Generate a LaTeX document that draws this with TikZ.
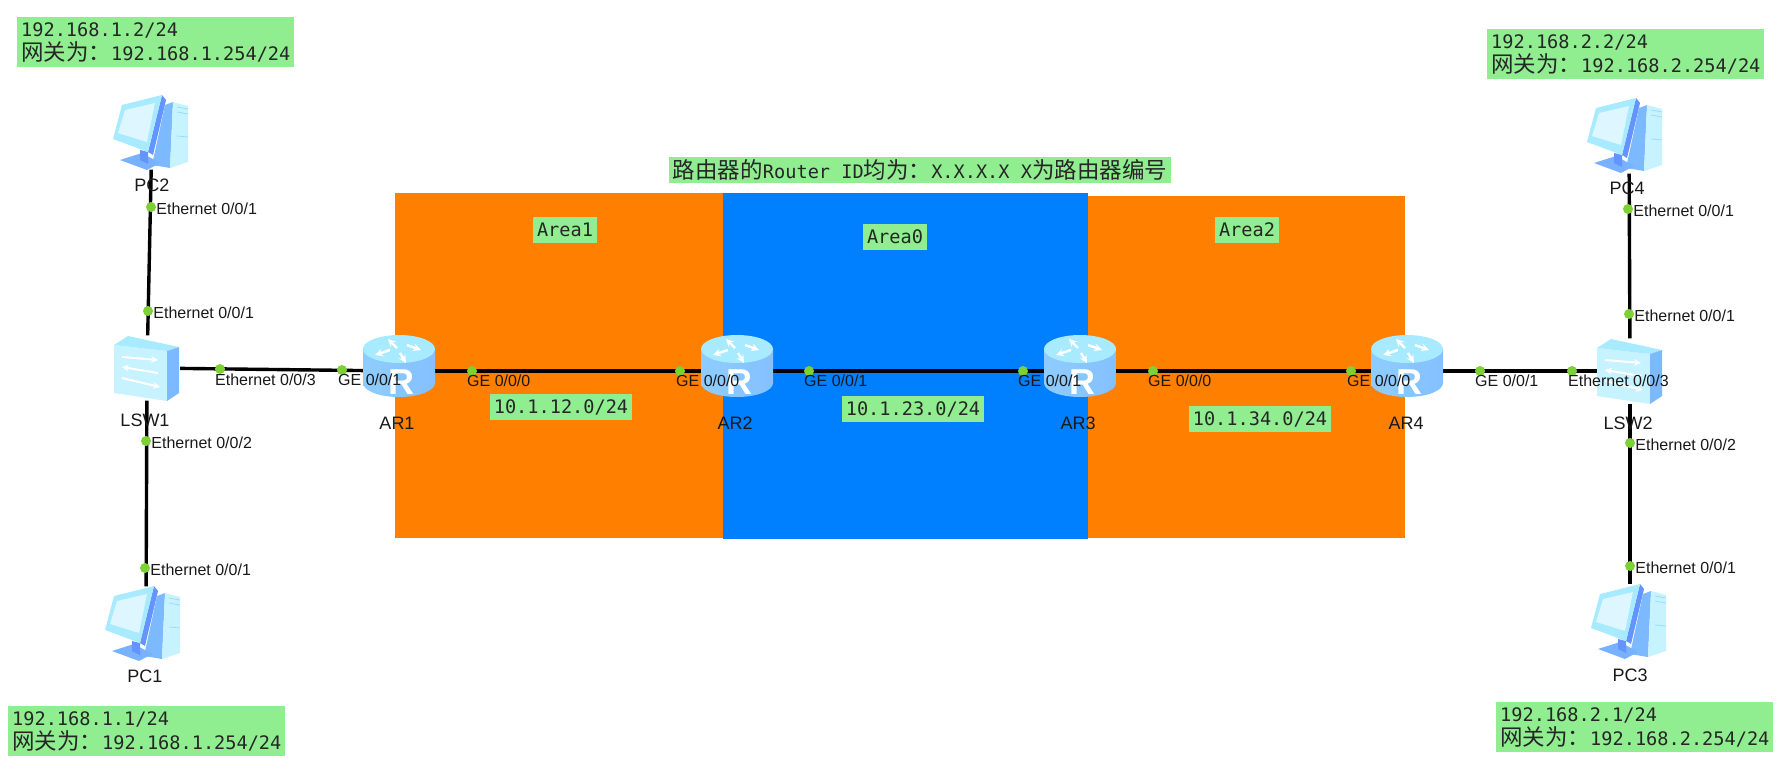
\documentclass[tikz,border=0pt]{standalone}
\usepackage{fontspec}
\setmainfont{Liberation Sans}
\setmonofont{DejaVu Sans Mono}
\newfontfamily\cjk[Scale=1.21]{Noto Sans CJK SC}
\usetikzlibrary{graphs,positioning}
\definecolor{areaorange}{HTML}{FF7F00}
\definecolor{areablue}{HTML}{007FFF}
\definecolor{notegreen}{HTML}{90EE90}
\definecolor{portgreen}{HTML}{7DD136}
\definecolor{iconpale}{HTML}{C6F3FF}
\definecolor{iconlight}{HTML}{A8EAFF}
\definecolor{iconscreen}{HTML}{DDF6FF}
\definecolor{iconmid}{HTML}{7DB9FF}
\definecolor{icondark}{HTML}{6494FF}
\tikzset{
    note/.style ={
        fill=notegreen,
        text=black!85,
        inner xsep=4pt,
        inner ysep=0pt,
        minimum height=26pt,
        font=\ttfamily\fontsize{18.6}{24}\selectfont
    },
    gwnote/.style ={
        note,
        anchor=north west,
        align=left,
        minimum height=50pt
    },
    wire/.style ={
        line width=3.4pt,
        black
    },
    pcbox/.style ={
        shape=rectangle,
        inner sep=0pt,
        minimum width=78pt,
        minimum height=75pt
    },
    switchbox/.style ={
        shape=rectangle,
        inner sep=0pt,
        minimum width=66pt,
        minimum height=65pt
    },
    routerbox/.style ={
        shape=rectangle,
        inner sep=0pt,
        minimum width=72pt,
        minimum height=52pt
    },
    port/.style ={
        shape=circle,
        inner sep=0pt,
        fill=portgreen,
        minimum size=10pt
    },
    portlabel/.style ={
        inner sep=0pt,
        text=black!90,
        font=\fontsize{16}{18}\selectfont
    },
    sidelabel/.style ={
        portlabel,
        yshift=-2pt
    },
    devlabel/.style ={
        inner sep=0pt,
        text=black!90,
        font=\fontsize{18}{20}\selectfont
    },
    pcicon/.pic={
        \fill[iconmid] (52,10) -- (60,7) -- (57,73) -- (39,70) -- cycle;
        \fill[iconpale] (60,7) -- (75,11) -- (75,67) -- (57,73) -- cycle;
        \draw[iconlight!70!iconmid,line width=0.8pt] (64,12) -- (75,14) (64,17) -- (75,19) (64,41) -- (75,42);
        \fill[iconmid!80!icondark] (7,65) -- (29,58) -- (47,68) -- (34,75) -- cycle;
        \fill[icondark] (27,55) -- (35,57) -- (35,69) -- (27,65) -- cycle;
        \fill[icondark] (49,0) -- (53,5) -- (40,60) -- (35,57) -- cycle;
        \fill[iconlight] (9,10) -- (49,0) -- (35,57) -- (0,44) -- cycle;
        \fill[iconscreen] (12,15) -- (42,8) -- (34,47) -- (5,38) -- cycle;
    },
    switchicon/.pic={
        \fill[iconpale] (1,9) -- (54,15) -- (54,65) -- (1,57) -- cycle;
        \fill[iconlight] (1,9) -- (15,0) -- (66,11) -- (54,15) -- cycle;
        \fill[iconmid] (54,15) -- (66,11) -- (66,57) -- (54,65) -- cycle;
        \draw[white,line width=2pt,->,>=stealth] (9,21) -- (45,24);
        \draw[white,line width=2pt,<-,>=stealth] (9,31) -- (45,37);
        \draw[white,line width=2pt,->,>=stealth] (9,42) -- (47,51);
    },
    routericon/.pic={
        \path[left color=iconmid!60!iconlight,middle color=iconlight!80!iconmid,right color=iconmid!85!iconlight]
            (0,14) -- (0,48) arc[start angle=180,end angle=0,x radius=36,y radius=14] -- (72,14) -- cycle;
        \fill[iconlight] (36,14) ellipse[x radius=36,y radius=14];
        \draw[white,line width=2.4pt,->,>=stealth] (34,13) -- (25,4);
        \draw[white,line width=2.4pt,->,>=stealth] (44,10) -- (58,15);
        \draw[white,line width=2.4pt,->,>=stealth] (27,15) -- (12,20);
        \draw[white,line width=2.4pt,->,>=stealth] (37,18) -- (43,28);
        \node[inner sep=0pt,text=white,font=\bfseries\fontsize{36}{36}\selectfont] (rmark) at(38,47) {R};
    }
}

\begin{document}
\begin{tikzpicture}[x=1pt,y=-1pt]
    \useasboundingbox (0,0) rectangle (1776,759);
    % areas
    \fill[areaorange] (395,193) rectangle (723,538);
    \fill[areaorange] (1087,196) rectangle (1405,538);
    \fill[areablue] (723,193) rectangle (1088,539);

    % devices
    \node[pcbox] (PC2) at(152,132) {};
    \node[pcbox] (PC1) at(146,624) {};
    \node[pcbox] (PC4) at(1629,136) {};
    \node[pcbox] (PC3) at(1630,622) {};
    \node[switchbox] (LSW1) at(147,368) {};
    \node[switchbox] (LSW2) at(1630,371) {};
    \node[routerbox] (AR1) at(399,371) {};
    \node[routerbox] (AR2) at(737,371) {};
    \node[routerbox] (AR3) at(1080,371) {};
    \node[routerbox] (AR4) at(1407,371) {};
    \graph[edges={wire}]{
        (PC2)--(LSW1)--(AR1)--(AR2)--(AR3)--(AR4)--(LSW2)--(PC4);
        (LSW1)--(PC1);
        (LSW2)--(PC3);
    };

    % icons
    \pic at(113,95) {pcicon};
    \pic at(105,586) {pcicon};
    \pic at(1587,98) {pcicon};
    \pic at(1591,584) {pcicon};
    \pic at(113,336) {switchicon};
    \pic at(1596,339) {switchicon};
    \pic at(363,335) {routericon};
    \pic at(701,335) {routericon};
    \pic at(1044,335) {routericon};
    \pic at(1371,335) {routericon};

    % ports
    \node[port] (p1) at(151,207) {};
    \node[port] (p2) at(148,311) {};
    \node[port] (p3) at(146,441) {};
    \node[port] (p4) at(145,568) {};
    \node[port] (p5) at(1628,209) {};
    \node[port] (p6) at(1629,314) {};
    \node[port] (p7) at(1630,443) {};
    \node[port] (p8) at(1630,566) {};
    \node[port] (p9) at(220,369) {};
    \node[port] (p10) at(342,370) {};
    \node[port] (p11) at(472,371) {};
    \node[port] (p12) at(680,371) {};
    \node[port] (p13) at(809,371) {};
    \node[port] (p14) at(1023,371) {};
    \node[port] (p15) at(1153,371) {};
    \node[port] (p16) at(1351,371) {};
    \node[port] (p17) at(1480,371) {};
    \node[port] (p18) at(1572,371) {};

    \node[sidelabel,right=0pt of p1] {Ethernet 0/0/1};
    \node[sidelabel,right=0pt of p2] {Ethernet 0/0/1};
    \node[sidelabel,right=0pt of p3] {Ethernet 0/0/2};
    \node[sidelabel,right=0pt of p4] {Ethernet 0/0/1};
    \node[sidelabel,right=0pt of p5] {Ethernet 0/0/1};
    \node[sidelabel,right=0pt of p6] {Ethernet 0/0/1};
    \node[sidelabel,right=0pt of p7] {Ethernet 0/0/2};
    \node[sidelabel,right=0pt of p8] {Ethernet 0/0/1};
    \node[portlabel,anchor=west] at(215,380) {Ethernet 0/0/3};
    \node[portlabel,anchor=west] at(338,380) {GE 0/0/1};
    \node[portlabel,anchor=west] at(467,381) {GE 0/0/0};
    \node[portlabel,anchor=west] at(676,381) {GE 0/0/0};
    \node[portlabel,anchor=west] at(804,381) {GE 0/0/1};
    \node[portlabel,anchor=west] at(1018,381) {GE 0/0/1};
    \node[portlabel,anchor=west] at(1148,381) {GE 0/0/0};
    \node[portlabel,anchor=west] at(1347,381) {GE 0/0/0};
    \node[portlabel,anchor=west] at(1475,381) {GE 0/0/1};
    \node[portlabel,anchor=west] at(1568,381) {Ethernet 0/0/3};

    \node[devlabel] (lPC2) at(152,185) {PC2};
    \node[devlabel] (lPC1) at(145,676) {PC1};
    \node[devlabel] (lPC4) at(1627,188) {PC4};
    \node[devlabel] (lPC3) at(1630,675) {PC3};
    \node[devlabel] (lLSW1) at(145,420) {LSW1};
    \node[devlabel] (lLSW2) at(1628,423) {LSW2};
    \node[devlabel] (lAR1) at(397,423) {AR1};
    \node[devlabel] (lAR2) at(735,423) {AR2};
    \node[devlabel] (lAR3) at(1078,423) {AR3};
    \node[devlabel] (lAR4) at(1406,423) {AR4};

    % notes
    \node[note] (title) at(920,170) {{\cjk 路由器的}Router ID{\cjk 均为：}X.X.X.X X{\cjk 为路由器编号}};
    \node[note] (area1) at(565,230) {Area1};
    \node[note] (area0) at(895,237) {Area0};
    \node[note] (area2) at(1247,230) {Area2};
    \node[note] (net12) at(561,407) {10.1.12.0/24};
    \node[note] (net23) at(913,409) {10.1.23.0/24};
    \node[note] (net34) at(1260,419) {10.1.34.0/24};
    \node[gwnote] (gwPC2) at(17,17) {192.168.1.2/24\\{\cjk 网关为：}192.168.1.254/24};
    \node[gwnote] (gwPC1) at(8,706) {192.168.1.1/24\\{\cjk 网关为：}192.168.1.254/24};
    \node[gwnote] (gwPC4) at(1487,29) {192.168.2.2/24\\{\cjk 网关为：}192.168.2.254/24};
    \node[gwnote] (gwPC3) at(1496,702) {192.168.2.1/24\\{\cjk 网关为：}192.168.2.254/24};
\end{tikzpicture}
\end{document}
